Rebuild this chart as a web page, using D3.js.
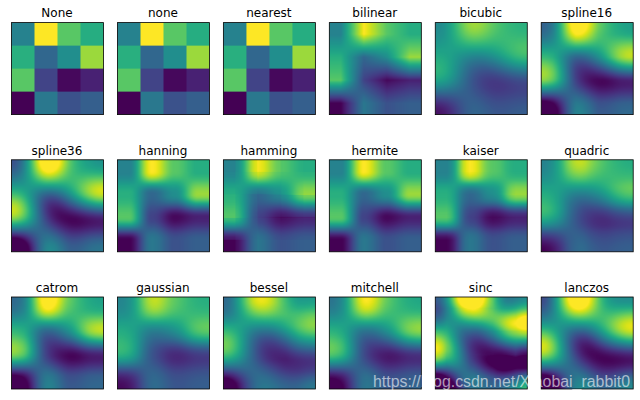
<!DOCTYPE html>
<html>
<head>
<meta charset="utf-8">
<script src="https://cdn.jsdelivr.net/npm/d3@7"></script>
<style>
html, body { margin: 0; padding: 0; background: #fff; }
svg { display: block; }
</style>
</head>
<body>
<div id="chart"></div>
<script>
// chart data
var methods = ["None", "none", "nearest", "bilinear", "bicubic", "spline16",
	"spline36", "hanning", "hamming", "hermite", "kaiser", "quadric",
	"catrom", "gaussian", "bessel", "mitchell", "sinc", "lanczos"];
var row0 = [0.44, 1.00, 0.74, 0.62];
var row1 = [0.63, 0.33, 0.49, 0.85];
var row2 = [0.74, 0.20, 0.02, 0.09];
var row3 = [0.00, 0.40, 0.25, 0.30];
var grid = [row0, row1, row2, row3];
var watermark = "https://blog.csdn.net/Xiaobai_rabbit0";

var width = 640, height = 400;
var cols = 6, rows = 3;
var panelSize = 92;

var x = d3.scaleLinear().domain([0, cols - 1]).range([11.5, 541.2]);
var y = d3.scaleLinear().domain([0, rows - 1]).range([22.6, 297]);
var color = d3.scaleSequential(d3.interpolateViridis).domain([0, 1]).clamp(true);

// Bessel functions for the kaiser and bessel kernels
function besselI0(v) {
	var sum = 1, y = v * v / 4, t = y;
	for (var i = 2; t > 1e-10; i++) {
		sum += t;
		t *= y / (i * i);
	}
	return sum;
}

function besselJ1(v) {
	// numeric integral of cos(t - v sin t) over 0..pi
	var n = 200, s = 0;
	for (var i = 0; i < n; i++) {
		var t = Math.PI * (i + 0.5) / n;
		s += Math.cos(t - v * Math.sin(t));
	}
	return s / n;
}

function cube(v) { return v <= 0 ? 0 : v * v * v; }

// same filter kernels the agg image resampler uses
var kernels = {
	bilinear: { r: 1, f: function(t) { return 1 - t; } },
	bicubic: { r: 2, f: function(t) {
		return (cube(t + 2) - 4 * cube(t + 1) + 6 * cube(t) - 4 * cube(t - 1)) / 6;
	} },
	spline16: { r: 2, f: function(t) {
		if (t < 1) return ((t - 9 / 5) * t - 1 / 5) * t + 1;
		var u = t - 1;
		return ((-1 / 3 * u + 4 / 5) * u - 7 / 15) * u;
	} },
	spline36: { r: 3, f: function(t) {
		if (t < 1) return ((13 / 11 * t - 453 / 209) * t - 3 / 209) * t + 1;
		var u = t - 1;
		if (t < 2) return ((-6 / 11 * u + 270 / 209) * u - 156 / 209) * u;
		u = t - 2;
		return ((1 / 11 * u - 45 / 209) * u + 26 / 209) * u;
	} },
	hanning: { r: 1, f: function(t) { return 0.5 + 0.5 * Math.cos(Math.PI * t); } },
	hamming: { r: 1, f: function(t) { return 0.54 + 0.46 * Math.cos(Math.PI * t); } },
	hermite: { r: 1, f: function(t) { return (2 * t - 3) * t * t + 1; } },
	kaiser: { r: 1, f: function(t) {
		return besselI0(6.33 * Math.sqrt(Math.max(0, 1 - t * t))) / besselI0(6.33);
	} },
	quadric: { r: 1.5, f: function(t) {
		if (t < 0.5) return 0.75 - t * t;
		return 0.5 * (t - 1.5) * (t - 1.5);
	} },
	catrom: { r: 2, f: function(t) {
		if (t < 1) return 0.5 * (2 + t * t * (-5 + t * 3));
		return 0.5 * (4 + t * (-8 + t * (5 - t)));
	} },
	gaussian: { r: 2, f: function(t) { return Math.exp(-2 * t * t) * Math.sqrt(2 / Math.PI); } },
	bessel: { r: 3.2383, f: function(t) {
		return t === 0 ? Math.PI / 4 : besselJ1(Math.PI * t) / (2 * t);
	} },
	mitchell: { r: 2, f: function(t) {
		var b = 1 / 3, c = 1 / 3;
		if (t < 1) return (6 - 2 * b) / 6 + t * t * ((-18 + 12 * b + 6 * c) / 6 + t * (12 - 9 * b - 6 * c) / 6);
		return (8 * b + 24 * c) / 6 + t * ((-12 * b - 48 * c) / 6 + t * ((6 * b + 30 * c) / 6 + t * (-b - 6 * c) / 6));
	} },
	sinc: { r: 4, f: function(t) {
		if (t === 0) return 1;
		var p = t * Math.PI;
		return Math.sin(p) / p;
	} },
	lanczos: { r: 4, f: function(t) {
		if (t === 0) return 1;
		var p = t * Math.PI;
		return Math.sin(p) / p * Math.sin(p / 4) / (p / 4);
	} }
};

// mirror an index back into the grid
function reflect(i, n) {
	var m = ((i % (2 * n)) + 2 * n) % (2 * n);
	return m >= n ? 2 * n - m - 1 : m;
}

// weights of the grid samples for one output coordinate
function weights(pos, kernel) {
	var list = [], total = 0;
	var c = pos - 0.5;
	var start = Math.ceil(c - kernel.r), end = Math.floor(c + kernel.r);
	for (var i = start; i <= end; i++) {
		var d = Math.abs(c - i);
		if (d >= kernel.r) continue;
		var w = kernel.f(d);
		list.push({ i: i, w: w });
		total += w;
	}
	list.forEach(function(d) { d.w /= total; });
	return list;
}

// draw one panel to an offscreen canvas, returns a data url
function renderPanel(name) {
	var n = grid.length;
	var canvas = document.createElement("canvas");
	canvas.width = panelSize;
	canvas.height = panelSize;
	var ctx = canvas.getContext("2d");
	var toGrid = d3.scaleLinear().domain([0, panelSize]).range([0, n]);
	var kernel = kernels[name];
	var table = d3.range(panelSize).map(function(p) {
		return kernel ? weights(toGrid(p + 0.5), kernel) : null;
	});

	for (var py = 0; py < panelSize; py++) {
		for (var px = 0; px < panelSize; px++) {
			var v = 0;
			if (kernel) {
				table[py].forEach(function(wy) {
					table[px].forEach(function(wx) {
						v += wy.w * wx.w * grid[reflect(wy.i, n)][reflect(wx.i, n)];
					});
				});
			} else {
				v = grid[Math.floor(toGrid(py + 0.5))][Math.floor(toGrid(px + 0.5))];
			}
			ctx.fillStyle = color(v);
			ctx.fillRect(px, py, 1, 1);
		}
	}
	return canvas.toDataURL();
}

var svg = d3.select("#chart").append("svg")
	.attr("width", width)
	.attr("height", height);

var panels = svg.selectAll("g.panel")
	.data(methods)
	.enter().append("g")
	.attr("class", "panel")
	.attr("transform", function(d, i) {
		return "translate(" + x(i % cols) + "," + y(Math.floor(i / cols)) + ")";
	});

panels.append("image")
	.attr("width", panelSize)
	.attr("height", panelSize)
	.attr("href", renderPanel);

panels.append("rect")
	.attr("width", panelSize)
	.attr("height", panelSize)
	.attr("fill", "none")
	.attr("stroke", "#000")
	.attr("stroke-width", 0.8);

panels.append("text")
	.attr("x", panelSize / 2 - 0.5)
	.attr("y", -5.2)
	.attr("text-anchor", "middle")
	.attr("font-family", "DejaVu Sans")
	.attr("font-size", 12)
	.attr("fill", "#000")
	.text(function(d) { return d; });

// blog watermark over the last row
svg.append("text")
	.attr("x", 373)
	.attr("y", 387)
	.attr("font-family", "Liberation Sans")
	.attr("font-size", 16)
	.attr("textLength", 257)
	.attr("lengthAdjust", "spacingAndGlyphs")
	.attr("fill", "#fff")
	.attr("fill-opacity", 0.6)
	.text(watermark);
</script>
</body>
</html>
